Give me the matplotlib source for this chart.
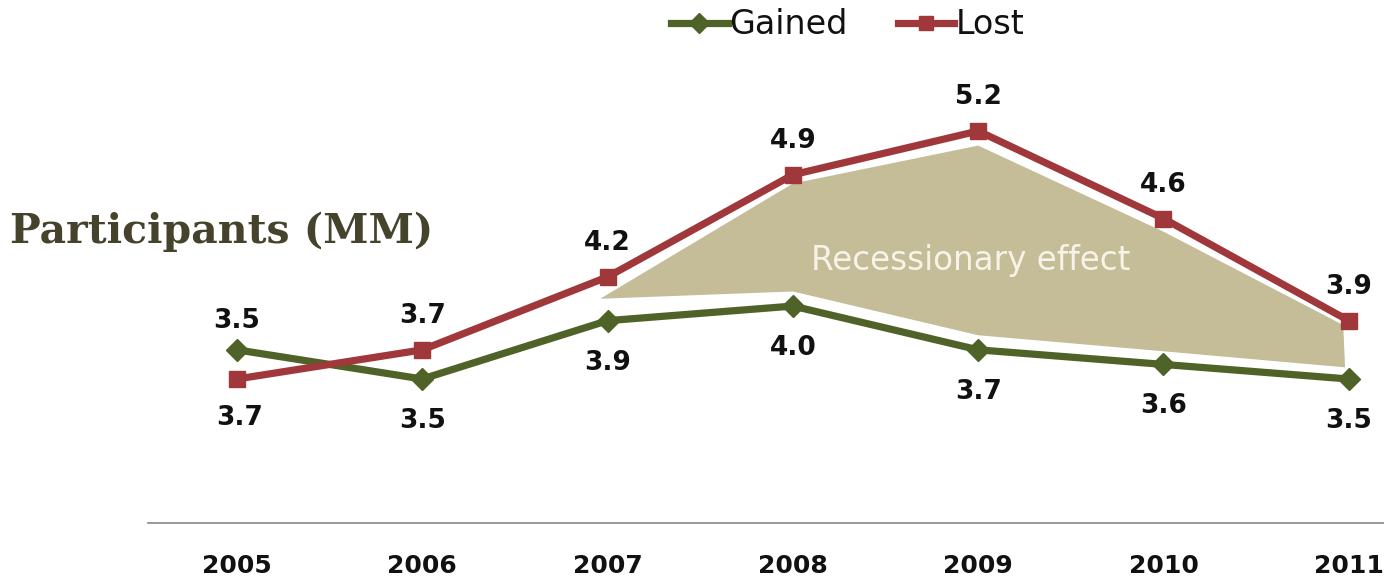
import numpy as np
import matplotlib.pyplot as plt
from matplotlib.patches import Polygon

years = [2005, 2006, 2007, 2008, 2009, 2010, 2011]
gained = [3.7, 3.5, 3.9, 4.0, 3.7, 3.6, 3.5]
lost = [3.5, 3.7, 4.2, 4.9, 5.2, 4.6, 3.9]

GREEN = '#4f6228'
RED = '#a0373a'
TAN = '#c4bd98'
INK = '#111111'

fig = plt.figure(figsize=(13.84, 5.79), dpi=100)
ax = fig.add_axes([148 / 1384, 1 - 523 / 579, 1 - 148 / 1384, 523 / 579])
ax.set_xlim(2004.52, 2011.19)
ax.set_ylim(2.513, 6.098)

# recession band between the two lines, 2007 onward
x = np.array(years[2:], dtype=float)
top = np.array(lost[3:]) - np.array([0.06, 0.10, 0.09, 0.03])
bot = np.array(gained[3:]) + np.array([0.10, 0.10, 0.09, 0.08])
pts = [(years[2] - 0.04, (lost[2] + gained[2]) / 2)]
pts += list(zip(x[1:-1], top[:-1])) + [(x[-1] - 0.03, top[-1])]
pts += [(x[-1] - 0.02, bot[-1])] + list(zip(x[1:-1][::-1], bot[:-1][::-1]))
ax.add_patch(Polygon(pts, closed=True, facecolor=TAN, edgecolor='none', zorder=1))
ax.text(2008.96, 4.31, 'Recessionary effect', color='#f7f3e6', fontsize=23.5,
        family='DejaVu Sans', ha='center', va='center', zorder=2)

ax.plot(years, gained, color=GREEN, lw=5.2, marker='D', ms=11, label='Gained', zorder=3)
ax.plot(years, lost, color=RED, lw=5.2, marker='s', ms=11, label='Lost', zorder=4)

# value labels: lost above, gained below
for i, (yr, g, l) in enumerate(zip(years, gained, lost)):
    up = 58 if i == 0 else 34
    dn = 68 if i == 0 else 42
    ax.annotate(f'{l:.1f}', (yr, l), xytext=(0, up / 1.389), textcoords='offset points',
                ha='center', va='center', fontsize=19, fontweight='bold',
                family='DejaVu Sans', color=INK)
    ax.annotate(f'{g:.1f}', (yr, g), xytext=(2 if i == 0 else 0, -dn / 1.389),
                textcoords='offset points', ha='center', va='center', fontsize=19,
                fontweight='bold', family='DejaVu Sans', color=INK)

for s in ['top', 'right', 'left']:
    ax.spines[s].set_visible(False)
ax.spines['bottom'].set_color('#888888')
ax.spines['bottom'].set_linewidth(1.2)
ax.set_yticks([])
ax.set_xticks(years)
ax.set_xticklabels([str(y) for y in years], fontsize=18, fontweight='bold',
                   family='DejaVu Sans', color=INK)
ax.tick_params(axis='x', length=0, pad=22)

fig.text(10 / 1384, 1 - 232 / 579, 'Participants (MM)', fontsize=29.5, fontweight='bold',
         family='DejaVu Serif', color='#46432c', ha='left', va='center')

fig.legend(loc='center', bbox_to_anchor=(848 / 1384, 1 - 25 / 579), ncol=2, frameon=False,
           prop={'family': 'DejaVu Sans', 'size': 24}, handlelength=1.7, handletextpad=0.05,
           columnspacing=1.5, markerscale=0.9, labelcolor=INK)

fig.savefig('out.png', dpi=100, facecolor='white')
